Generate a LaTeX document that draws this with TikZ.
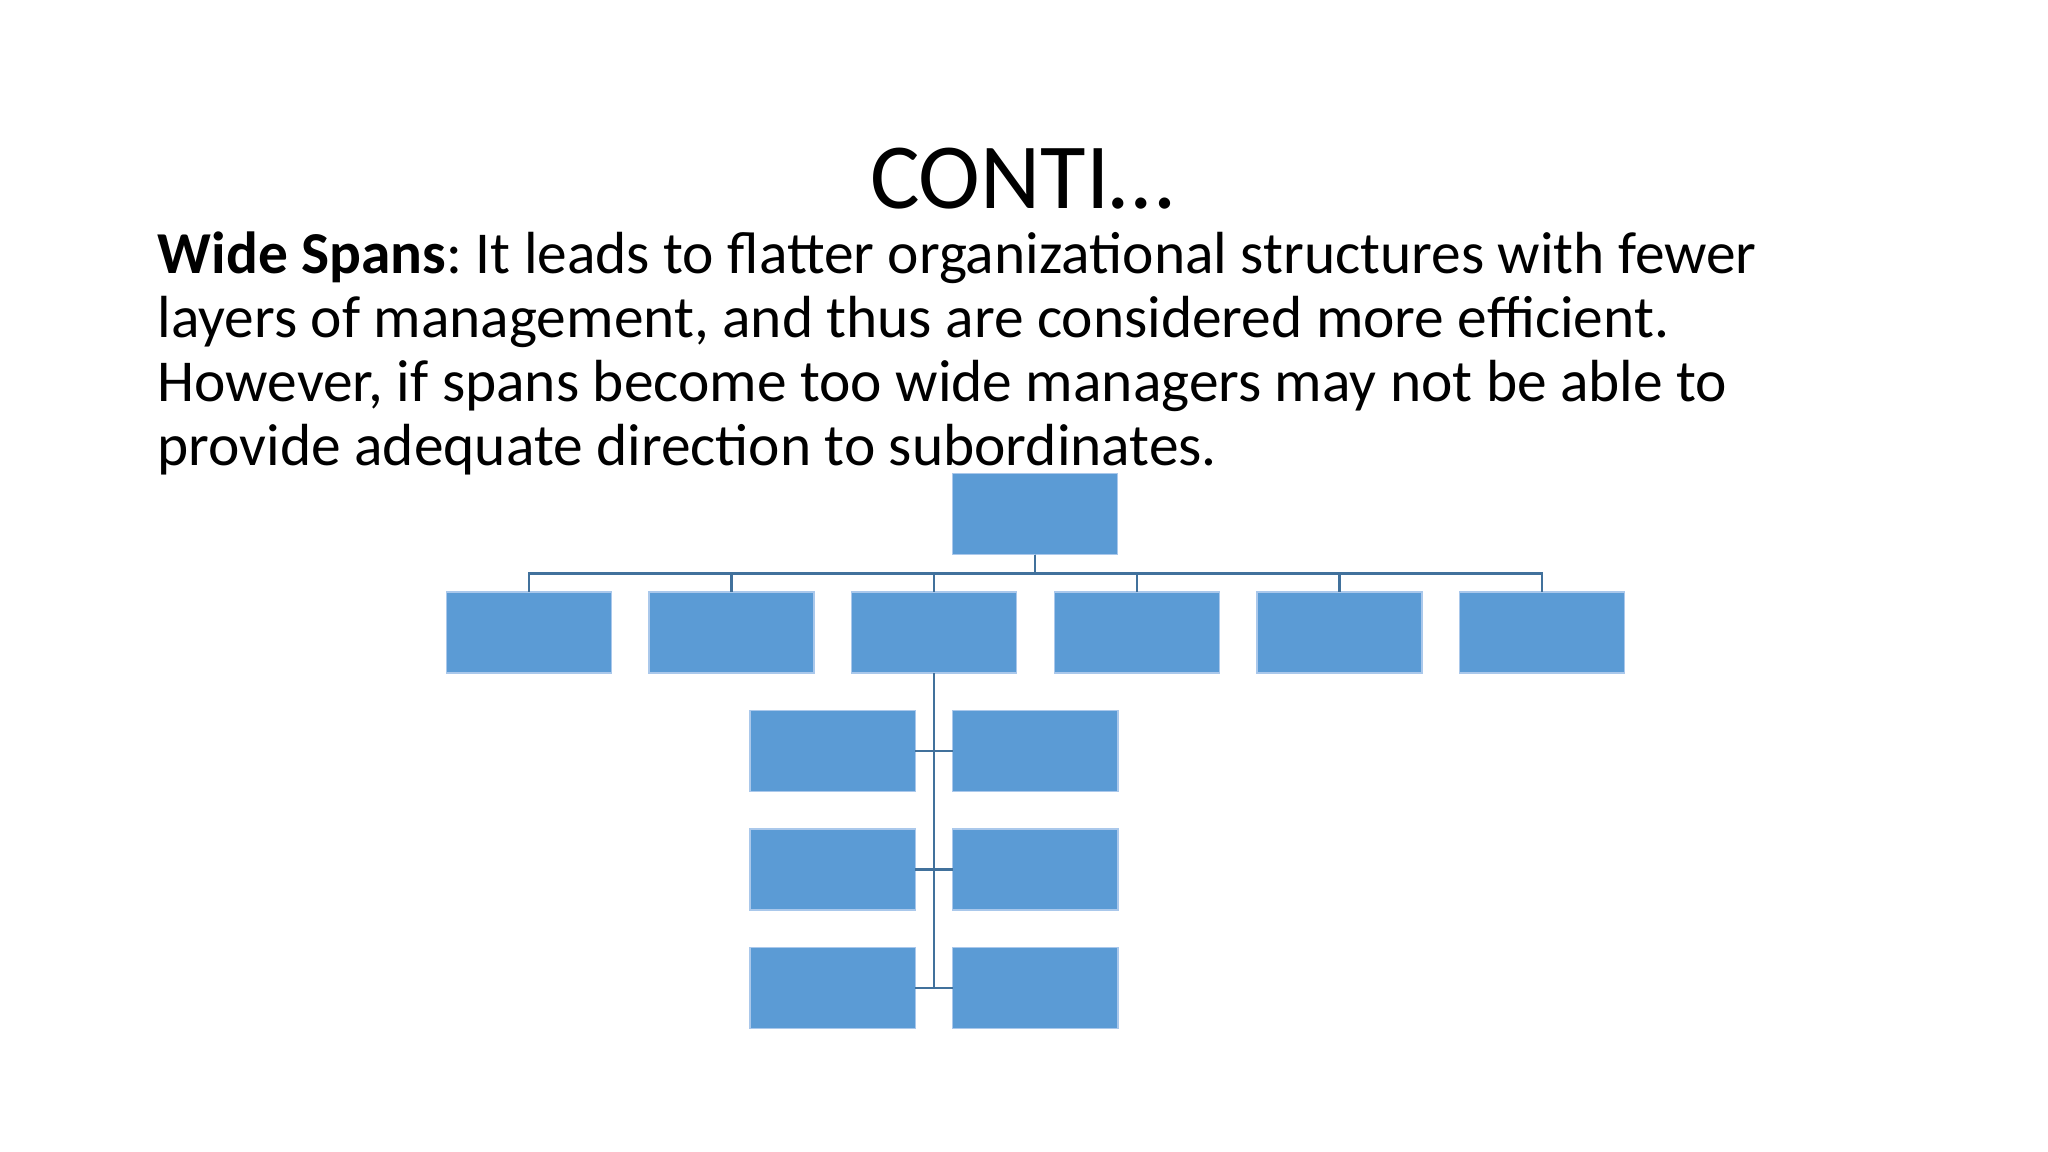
\documentclass[tikz,border=0pt]{standalone}
\usepackage{fontspec}
\setmainfont{Carlito}
\usepackage{tikz}
\usetikzlibrary{calc, positioning}
\definecolor{boxblue}{RGB}{91,155,213}
\definecolor{boxrim}{RGB}{170,200,235}
\definecolor{linkblue}{RGB}{65,113,156}
\tikzset{%
    unit/.style={%
        rectangle,
        fill=boxblue,
        draw=boxrim, line width=0.4pt,
        minimum width=1.65cm,
        minimum height=0.81cm,
        inner sep=0pt,
        outer sep=0pt,
    },
    link/.style={%
        draw=linkblue,
        line width=0.7pt,
    },
    title/.style={%
        font=\fontsize{26.5}{32}\selectfont,
        inner sep=0pt,
    },
    body/.style={%
        font=\fontsize{16.9}{18.2}\selectfont,
        align=left,
        inner sep=0pt,
    },
}

\begin{document}
\frenchspacing
\begin{tikzpicture}[x=0.01cm, y=-0.01cm, node distance=0.375cm]
	\useasboundingbox (0,0) rectangle (2048,1152);
	% \draw[help lines, step=100] (0,0) grid (2048,1152);
	\coordinate (root) at (1035, 514);
	\coordinate (first) at (529, 632.5);

	\node [title, anchor=base] at (1022, 209) (heading) {CONTI…};
	% base of a multi-line node = last line
	\node [body, anchor=base west] at (157, 466) (text) {%
		\textbf{Wide Spans}: It leads to flatter organizational structures with fewer\\
		layers of management, and thus are considered more efficient.\\
		However, if spans become too wide managers may not be able to\\
		provide adequate direction to subordinates.};

	\node [unit] at (root) (top) {};

	\node [unit] at (first) (m1) {};
	\node [unit, right=of m1] (m2) {};
	\node [unit, right=of m2] (m3) {};
	\node [unit, right=of m3] (m4) {};
	\node [unit, right=of m4] (m5) {};
	\node [unit, right=of m5] (m6) {};

	\node [unit, below=of m3.south, anchor=north east, xshift=-0.19cm] (s1l) {};
	\node [unit, right=of s1l] (s1r) {};
	\node [unit, below=of s1l] (s2l) {};
	\node [unit, right=of s2l] (s2r) {};
	\node [unit, below=of s2l] (s3l) {};
	\node [unit, right=of s3l] (s3r) {};

	\foreach \i in {1,...,6}
		\draw[link] (top.south) -- ++(0,19) -| (m\i.north);

	\draw[link] (m3.south) -- (m3.south |- s3l.east);
	\foreach \i in {1,2,3}
		\draw[link] (s\i l.east) -- (s\i r.west);
\end{tikzpicture}
\end{document}
